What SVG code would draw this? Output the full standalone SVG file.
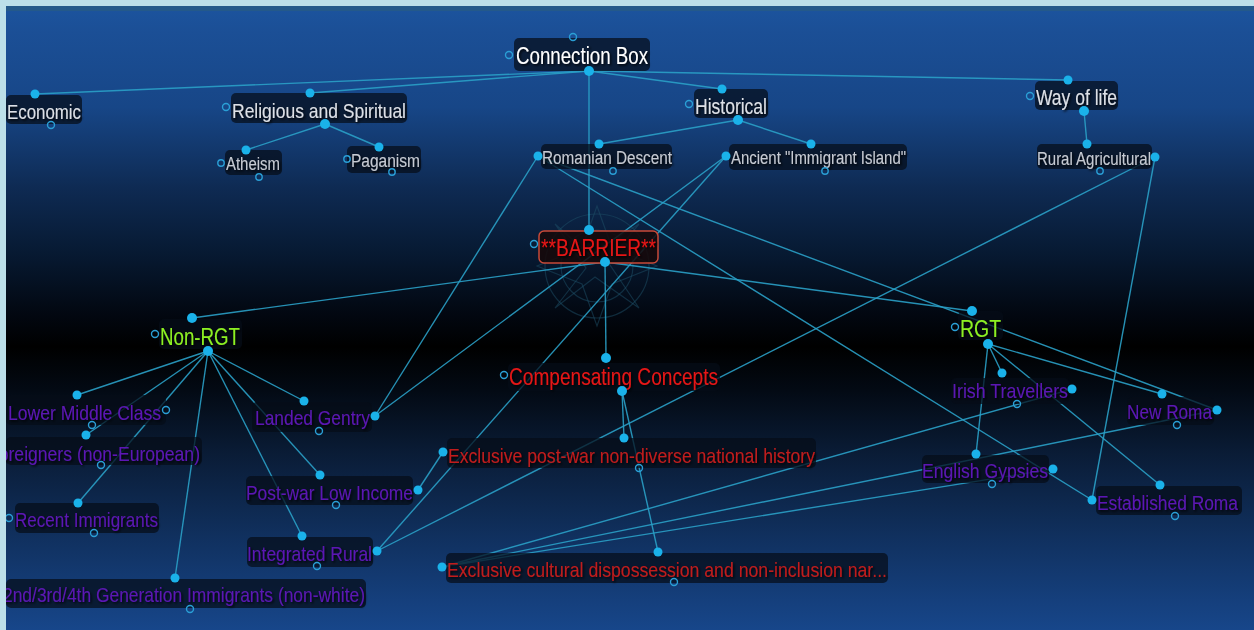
<svg xmlns="http://www.w3.org/2000/svg" width="1254" height="630" viewBox="0 0 1254 630">
<defs>
<linearGradient id="bg" x1="0" y1="0" x2="0" y2="630" gradientUnits="userSpaceOnUse">
<stop offset="0" stop-color="#1c55a0"/>
<stop offset="0.05" stop-color="#1b4f96"/>
<stop offset="0.17" stop-color="#174687"/>
<stop offset="0.3" stop-color="#0e2a52"/>
<stop offset="0.4" stop-color="#071a33"/>
<stop offset="0.5" stop-color="#020710"/>
<stop offset="0.55" stop-color="#000000"/>
<stop offset="0.62" stop-color="#030a14"/>
<stop offset="0.72" stop-color="#0a1c36"/>
<stop offset="0.85" stop-color="#10305e"/>
<stop offset="1" stop-color="#17468a"/>
</linearGradient>
<filter id="sh" x="-10%" y="-30%" width="120%" height="160%">
<feDropShadow dx="1.5" dy="1.5" stdDeviation="0.8" flood-color="#000" flood-opacity="0.85"/>
</filter>
<style>
.box{fill:#050c18;fill-opacity:0.72}
.t{font-family:"Liberation Sans Narrow","Liberation Sans",Arial,sans-serif;filter:url(#sh)}
.w{fill:#ffffff}
.g{fill:#dde0e6}
.s{fill:#c6cad2}
.p{fill:#5c18b4}
.r{fill:#e61616}
.dr{fill:#c01c1c}
.gr{fill:#8df024}
.dot{fill:#1ab2ea}
.oc{fill:none;stroke:#2a9fd6;stroke-width:1.4}
.ln line{stroke:#2aa0c6;stroke-width:1.4;stroke-opacity:0.9}
.deco{fill:none;stroke:#1d5068;stroke-opacity:0.5;stroke-width:1.2}
</style>
</defs>
<rect x="0" y="0" width="1254" height="630" fill="url(#bg)"/>
<g id="decoration">
<circle class="deco" cx="597" cy="266" r="52"/>
<circle class="deco" cx="597" cy="266" r="36"/>
<polygon class="deco" points="597,206 612,248 657,266 612,284 597,326 582,284 537,266 582,248"/>
<polygon class="deco" points="555,224 590,255 639,224 608,262 639,308 595,277 555,308 586,268"/>
</g>
<g id="connectors" class="ln">
<line x1="589" y1="71" x2="35" y2="94"/>
<line x1="589" y1="71" x2="310" y2="93"/>
<line x1="589" y1="71" x2="722" y2="89"/>
<line x1="589" y1="71" x2="1068" y2="80"/>
<line x1="589" y1="71" x2="589" y2="230"/>
<line x1="325" y1="124" x2="246" y2="150"/>
<line x1="325" y1="124" x2="379" y2="147"/>
<line x1="738" y1="120" x2="599" y2="144"/>
<line x1="738" y1="120" x2="811" y2="144"/>
<line x1="1084" y1="111" x2="1087" y2="144"/>
<line x1="605" y1="262" x2="192" y2="318"/>
<line x1="605" y1="262" x2="972" y2="311"/>
<line x1="605" y1="262" x2="606" y2="358"/>
<line x1="208" y1="351" x2="77" y2="395"/>
<line x1="208" y1="351" x2="86" y2="435"/>
<line x1="208" y1="351" x2="78" y2="503"/>
<line x1="208" y1="351" x2="175" y2="578"/>
<line x1="208" y1="351" x2="304" y2="401"/>
<line x1="208" y1="351" x2="320" y2="475"/>
<line x1="208" y1="351" x2="302" y2="536"/>
<line x1="622" y1="391" x2="624" y2="438"/>
<line x1="622" y1="391" x2="658" y2="552"/>
<line x1="988" y1="344" x2="1002" y2="373"/>
<line x1="988" y1="344" x2="976" y2="454"/>
<line x1="988" y1="344" x2="1160" y2="485"/>
<line x1="988" y1="344" x2="1162" y2="394"/>
<line x1="538" y1="156" x2="375" y2="416"/>
<line x1="538" y1="156" x2="1217" y2="410"/>
<line x1="538" y1="156" x2="1092" y2="500"/>
<line x1="726" y1="156" x2="375" y2="416"/>
<line x1="726" y1="156" x2="377" y2="551"/>
<line x1="1155" y1="157" x2="377" y2="551"/>
<line x1="1155" y1="157" x2="1092" y2="500"/>
<line x1="418" y1="490" x2="443" y2="452"/>
<line x1="442" y1="567" x2="1072" y2="389"/>
<line x1="442" y1="567" x2="1217" y2="410"/>
<line x1="442" y1="567" x2="1053" y2="469"/>
</g>
<g id="node-connection-box">
<rect class="box" x="514" y="38" width="136" height="33" rx="5"/>
<text class="t w" x="516" y="64" font-size="23" textLength="132" lengthAdjust="spacingAndGlyphs">Connection Box</text>
<circle class="oc" cx="573" cy="37" r="3.5"/><circle class="oc" cx="509" cy="55" r="3.5"/>
<circle class="dot" cx="589" cy="71" r="5"/>
</g>
<g id="node-economic">
<rect class="box" x="6" y="95" width="76" height="29" rx="5"/>
<text class="t g" x="7" y="119" font-size="21" textLength="74" lengthAdjust="spacingAndGlyphs">Economic</text>
<circle class="dot" cx="35" cy="94" r="4.5"/><circle class="oc" cx="51" cy="125" r="3.5"/>
</g>
<g id="node-religious">
<rect class="box" x="231" y="93" width="176" height="30" rx="5"/>
<text class="t g" x="232" y="118" font-size="21" textLength="174" lengthAdjust="spacingAndGlyphs">Religious and Spiritual</text>
<circle class="oc" cx="226" cy="107" r="3.5"/><circle class="dot" cx="310" cy="93" r="4.5"/><circle class="dot" cx="325" cy="124" r="5"/>
</g>
<g id="node-atheism">
<rect class="box" x="225" y="150" width="57" height="25" rx="5"/>
<text class="t s" x="226" y="170" font-size="18" textLength="54" lengthAdjust="spacingAndGlyphs">Atheism</text>
<circle class="oc" cx="221" cy="163" r="3.2"/><circle class="dot" cx="246" cy="150" r="4.5"/><circle class="oc" cx="259" cy="177" r="3.2"/>
</g>
<g id="node-paganism">
<rect class="box" x="347" y="146" width="74" height="27" rx="5"/>
<text class="t s" x="351" y="167" font-size="18" textLength="69" lengthAdjust="spacingAndGlyphs">Paganism</text>
<circle class="oc" cx="347" cy="159" r="3.2"/><circle class="dot" cx="379" cy="147" r="4.5"/><circle class="oc" cx="392" cy="172" r="3.2"/>
</g>
<g id="node-historical">
<rect class="box" x="694" y="89" width="74" height="29" rx="5"/>
<text class="t g" x="695" y="114" font-size="22" textLength="72" lengthAdjust="spacingAndGlyphs">Historical</text>
<circle class="oc" cx="689" cy="104" r="3.5"/><circle class="dot" cx="722" cy="89" r="4.5"/><circle class="dot" cx="738" cy="120" r="5"/>
</g>
<g id="node-romanian-descent">
<rect class="box" x="541" y="144" width="131" height="25" rx="5"/>
<text class="t s" x="542" y="164" font-size="18" textLength="130" lengthAdjust="spacingAndGlyphs">Romanian Descent</text>
<circle class="dot" cx="538" cy="156" r="4.5"/><circle class="dot" cx="599" cy="144" r="4.5"/><circle class="oc" cx="613" cy="171" r="3.2"/>
</g>
<g id="node-ancient">
<rect class="box" x="729" y="144" width="178" height="26" rx="5"/>
<text class="t s" x="731" y="164" font-size="18" textLength="175" lengthAdjust="spacingAndGlyphs">Ancient "Immigrant Island"</text>
<circle class="dot" cx="726" cy="156" r="4.5"/><circle class="dot" cx="811" cy="144" r="4.5"/><circle class="oc" cx="825" cy="171" r="3.2"/>
</g>
<g id="node-way-of-life">
<rect class="box" x="1035" y="81" width="83" height="29" rx="5"/>
<text class="t g" x="1036" y="105" font-size="22" textLength="81" lengthAdjust="spacingAndGlyphs">Way of life</text>
<circle class="oc" cx="1030" cy="96" r="3.5"/><circle class="dot" cx="1068" cy="80" r="4.5"/><circle class="dot" cx="1084" cy="111" r="5"/>
</g>
<g id="node-rural-agricultural">
<rect class="box" x="1037" y="144" width="115" height="25" rx="5"/>
<text class="t s" x="1037" y="165" font-size="18" textLength="114" lengthAdjust="spacingAndGlyphs">Rural Agricultural</text>
<circle class="dot" cx="1087" cy="144" r="4.5"/><circle class="dot" cx="1155" cy="157" r="4.5"/><circle class="oc" cx="1100" cy="171" r="3.2"/>
</g>
<g id="node-barrier">
<rect x="539" y="231" width="119" height="32" rx="5" fill="#160808" fill-opacity="0.85" stroke="#c84a38" stroke-width="1.5"/>
<text class="t r" x="541" y="256" font-size="23" textLength="115" lengthAdjust="spacingAndGlyphs">**BARRIER**</text>
<circle class="oc" cx="534" cy="244" r="3.5"/><circle class="dot" cx="589" cy="230" r="5"/><circle class="dot" cx="605" cy="262" r="5"/>
</g>
<g id="node-non-rgt">
<rect class="box" x="159" y="319" width="83" height="30" rx="5"/>
<text class="t gr" x="160" y="345" font-size="23" textLength="80" lengthAdjust="spacingAndGlyphs">Non-RGT</text>
<circle class="oc" cx="155" cy="334" r="3.5"/><circle class="dot" cx="192" cy="318" r="5"/><circle class="dot" cx="208" cy="351" r="5"/>
</g>
<g id="node-compensating">
<rect class="box" x="508" y="363" width="212" height="28" rx="5"/>
<text class="t r" x="509" y="385" font-size="23" textLength="209" lengthAdjust="spacingAndGlyphs">Compensating Concepts</text>
<circle class="oc" cx="504" cy="375" r="3.5"/><circle class="dot" cx="606" cy="358" r="5"/><circle class="dot" cx="622" cy="391" r="5"/>
</g>
<g id="node-rgt">
<rect class="box" x="958" y="311" width="45" height="29" rx="5"/>
<text class="t gr" x="960" y="337" font-size="23" textLength="41" lengthAdjust="spacingAndGlyphs">RGT</text>
<circle class="oc" cx="955" cy="327" r="3.5"/><circle class="dot" cx="972" cy="311" r="5"/><circle class="dot" cx="988" cy="344" r="5"/>
</g>
<g id="node-lower-middle-class">
<rect class="box" x="6" y="395" width="160" height="30" rx="5"/>
<text class="t p" x="8" y="420" font-size="21" textLength="153" lengthAdjust="spacingAndGlyphs">Lower Middle Class</text>
<circle class="dot" cx="77" cy="395" r="4.5"/><circle class="oc" cx="166" cy="410" r="3.5"/><circle class="oc" cx="92" cy="425" r="3.5"/>
</g>
<g id="node-foreigners">
<rect class="box" x="6" y="437" width="196" height="28" rx="5"/>
<text class="t p" x="-12" y="461" font-size="21" textLength="212" lengthAdjust="spacingAndGlyphs">Foreigners (non-European)</text>
<circle class="dot" cx="86" cy="435" r="4.5"/><circle class="oc" cx="101" cy="465" r="3.5"/>
</g>
<g id="node-recent-immigrants">
<rect class="box" x="15" y="503" width="144" height="30" rx="5"/>
<text class="t p" x="15" y="527" font-size="21" textLength="143" lengthAdjust="spacingAndGlyphs">Recent Immigrants</text>
<circle class="oc" cx="9" cy="518" r="3.5"/><circle class="dot" cx="78" cy="503" r="4.5"/><circle class="oc" cx="94" cy="533" r="3.5"/>
</g>
<g id="node-generation-immigrants">
<rect class="box" x="6" y="579" width="360" height="29" rx="5"/>
<text class="t p" x="3" y="602" font-size="21" textLength="362" lengthAdjust="spacingAndGlyphs">2nd/3rd/4th Generation Immigrants (non-white)</text>
<circle class="dot" cx="175" cy="578" r="4.5"/><circle class="oc" cx="190" cy="609" r="3.5"/>
</g>
<g id="node-landed-gentry">
<rect class="box" x="252" y="402" width="120" height="30" rx="5"/>
<text class="t p" x="255" y="425" font-size="21" textLength="115" lengthAdjust="spacingAndGlyphs">Landed Gentry</text>
<circle class="dot" cx="304" cy="401" r="4.5"/><circle class="dot" cx="375" cy="416" r="4.5"/><circle class="oc" cx="319" cy="431" r="3.5"/>
</g>
<g id="node-post-war-low-income">
<rect class="box" x="246" y="476" width="167" height="29" rx="5"/>
<text class="t p" x="246" y="500" font-size="21" textLength="167" lengthAdjust="spacingAndGlyphs">Post-war Low Income</text>
<circle class="dot" cx="320" cy="475" r="4.5"/><circle class="dot" cx="418" cy="490" r="4.5"/><circle class="oc" cx="336" cy="505" r="3.5"/>
</g>
<g id="node-integrated-rural">
<rect class="box" x="247" y="537" width="126" height="30" rx="5"/>
<text class="t p" x="247" y="561" font-size="21" textLength="125" lengthAdjust="spacingAndGlyphs">Integrated Rural</text>
<circle class="dot" cx="302" cy="536" r="4.5"/><circle class="dot" cx="377" cy="551" r="4.5"/><circle class="oc" cx="317" cy="566" r="3.5"/>
</g>
<g id="node-exclusive-post-war">
<rect class="box" x="447" y="438" width="369" height="30" rx="5"/>
<text class="t dr" x="448" y="463" font-size="21" textLength="367" lengthAdjust="spacingAndGlyphs">Exclusive post-war non-diverse national history</text>
<circle class="dot" cx="443" cy="452" r="4.5"/><circle class="dot" cx="624" cy="438" r="4.5"/><circle class="oc" cx="639" cy="468" r="3.5"/>
</g>
<g id="node-exclusive-cultural">
<rect class="box" x="446" y="553" width="442" height="30" rx="5"/>
<text class="t dr" x="447" y="577" font-size="21" textLength="440" lengthAdjust="spacingAndGlyphs">Exclusive cultural dispossession and non-inclusion nar...</text>
<circle class="dot" cx="442" cy="567" r="4.5"/><circle class="dot" cx="658" cy="552" r="4.5"/><circle class="oc" cx="674" cy="582" r="3.5"/>
</g>
<g id="node-irish-travellers">
<rect class="box" x="951" y="378" width="118" height="26" rx="5"/>
<text class="t p" x="952" y="398" font-size="21" textLength="116" lengthAdjust="spacingAndGlyphs">Irish Travellers</text>
<circle class="dot" cx="1002" cy="373" r="4.5"/><circle class="dot" cx="1072" cy="389" r="4.5"/><circle class="oc" cx="1017" cy="404" r="3.5"/>
</g>
<g id="node-new-roma">
<rect class="box" x="1127" y="397" width="87" height="28" rx="5"/>
<text class="t p" x="1127" y="419" font-size="21" textLength="85" lengthAdjust="spacingAndGlyphs">New Roma</text>
<circle class="dot" cx="1162" cy="394" r="4.5"/><circle class="dot" cx="1217" cy="410" r="4.5"/><circle class="oc" cx="1177" cy="425" r="3.5"/>
</g>
<g id="node-english-gypsies">
<rect class="box" x="922" y="455" width="127" height="28" rx="5"/>
<text class="t p" x="922" y="478" font-size="21" textLength="126" lengthAdjust="spacingAndGlyphs">English Gypsies</text>
<circle class="dot" cx="976" cy="454" r="4.5"/><circle class="dot" cx="1053" cy="469" r="4.5"/><circle class="oc" cx="992" cy="484" r="3.5"/>
</g>
<g id="node-established-roma">
<rect class="box" x="1096" y="486" width="146" height="29" rx="5"/>
<text class="t p" x="1097" y="510" font-size="20" textLength="141" lengthAdjust="spacingAndGlyphs">Established Roma</text>
<circle class="dot" cx="1160" cy="485" r="4.5"/><circle class="dot" cx="1092" cy="500" r="4.5"/><circle class="oc" cx="1175" cy="516" r="3.5"/>
</g>
<g id="frame">
<rect x="0" y="6" width="1254" height="5" fill="#24598a"/>
<rect x="0" y="0" width="1254" height="6" fill="#bcdfe9"/>
<rect x="0" y="0" width="6" height="630" fill="#bcdfe9"/>
</g>
</svg>
